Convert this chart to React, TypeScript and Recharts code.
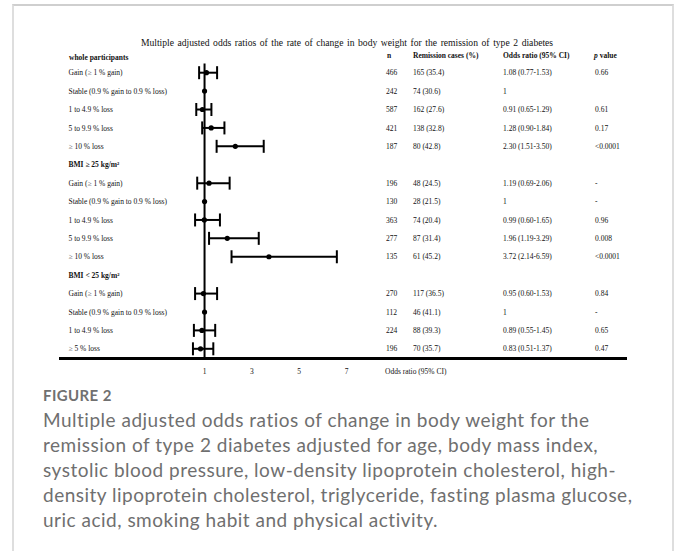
import React from "react";
import { ComposedChart, Line, ErrorBar, XAxis, YAxis, ReferenceLine } from "recharts";

// forest plot rows (null n = subgroup heading)
const rowLabels = [
  "Gain  (≥ 1 % gain)",
  "Stable  (0.9 % gain  to  0.9 % loss)",
  "1 to 4.9 % loss",
  "5 to 9.9 % loss",
  "≥ 10 % loss",
  "BMI ≥ 25 kg/m²",
  "Gain  (≥ 1 % gain)",
  "Stable  (0.9 % gain  to  0.9 % loss)",
  "1 to 4.9 % loss",
  "5 to 9.9 % loss",
  "≥ 10 % loss",
  "BMI < 25 kg/m²",
  "Gain  (≥ 1 % gain)",
  "Stable  (0.9 % gain  to  0.9 % loss)",
  "1 to 4.9 % loss",
  "≥ 5 % loss",
];
const nValues = [466, 242, 587, 421, 187, null, 196, 130, 363, 277, 135, null, 270, 112, 224, 196];
const remissionCases = [165, 74, 162, 138, 80, null, 48, 28, 74, 87, 61, null, 117, 46, 88, 70];
const remissionPct = ["35.4", "30.6", "27.6", "32.8", "42.8", null, "24.5", "21.5", "20.4", "31.4", "45.2", null, "36.5", "41.1", "39.3", "35.7"];
const oddsRatios = [1.08, 1, 0.91, 1.28, 2.3, null, 1.19, 1, 0.99, 1.96, 3.72, null, 0.95, 1, 0.89, 0.83];
const ciLower = [0.77, null, 0.65, 0.9, 1.51, null, 0.69, null, 0.6, 1.19, 2.14, null, 0.6, null, 0.55, 0.51];
const ciUpper = [1.53, null, 1.29, 1.84, 3.5, null, 2.06, null, 1.65, 3.29, 6.59, null, 1.53, null, 1.45, 1.37];
const pValues = ["0.66", "", "0.61", "0.17", "<0.0001", null, "-", "-", "0.96", "0.008", "<0.0001", null, "0.84", "-", "0.65", "0.47"];
const xTicks = [1, 3, 5, 7];

const rows = rowLabels.map((label, i) => {
  const or = oddsRatios[i];
  const lo = ciLower[i];
  const hi = ciUpper[i];
  return {
    id: `r${i}`,
    label,
    heading: nValues[i] == null,
    n: nValues[i],
    remission: remissionCases[i] != null ? `${remissionCases[i]} (${remissionPct[i]})` : "",
    orText:
      or == null ? "" : lo == null ? String(or) : `${or.toFixed(2)} (${lo.toFixed(2)}-${hi!.toFixed(2)})`,
    p: pValues[i] ?? "",
    or,
    err: or != null && lo != null && hi != null ? [or - lo, hi - or] : null,
  };
});

const SERIF = "'Liberation Serif', 'Times New Roman', serif";
const SANS = "Lato, 'Open Sans', sans-serif";

// chart box
const CHART_W = 677;
const CHART_H = 390;
const MARGIN = { top: 63.5, right: 50, bottom: 12, left: 0 };
const Y_AXIS_W = 59;
const X_AXIS_H = 20;

function RowTick(props: any) {
  const { y, payload } = props;
  const row = rows.find((r) => r.id === payload.value);
  if (!row) return null;
  return (
    <g fontFamily={SERIF} fontSize={7.5} fill="#111" style={{ whiteSpace: "pre" }}>
      <text x={68.5} y={y} dy="0.35em" fontWeight={row.heading ? "bold" : "normal"}>
        {row.label}
      </text>
      {!row.heading && (
        <>
          <text x={386} y={y} dy="0.35em">{row.n}</text>
          <text x={413} y={y} dy="0.35em">{row.remission}</text>
          <text x={503} y={y} dy="0.35em">{row.orText}</text>
          <text x={595} y={y} dy="0.35em">{row.p}</text>
        </>
      )}
    </g>
  );
}

const abs = (left: number, top: number, extra: React.CSSProperties = {}): React.CSSProperties => ({
  position: "absolute",
  left,
  top,
  whiteSpace: "pre",
  ...extra,
});

export default function App() {
  const headStyle: React.CSSProperties = {
    fontFamily: SERIF,
    fontSize: 7.5,
    lineHeight: "10px",
    fontWeight: "bold",
    color: "#111",
  };
  const plotLeft = MARGIN.left + Y_AXIS_W;
  const plotRight = CHART_W - MARGIN.right;
  const plotBottom = CHART_H - MARGIN.bottom - X_AXIS_H;
  return (
    <div style={{ position: "relative", width: 677, height: 551, background: "#fff", overflow: "hidden" }}>
      <style>{`body{margin:0}`}</style>
      <div
        style={{
          position: "absolute",
          left: 12,
          top: 4,
          width: 658,
          height: 600,
          borderTop: "2px solid #cfcfcf",
          borderLeft: "2px solid #dedede",
          borderRight: "2px solid #dedede",
        }}
      />
      <div
        style={abs(347, 37, {
          transform: "translateX(-50%)",
          fontFamily: SERIF,
          fontSize: 9.6,
          lineHeight: "12px",
          wordSpacing: 1.2,
          color: "#111",
        })}
      >
        Multiple adjusted odds ratios of the rate of change in body weight for the remission of type 2 diabetes
      </div>
      <div style={abs(69, 53, headStyle)}>whole participants</div>
      <div style={abs(387, 51, headStyle)}>n</div>
      <div style={abs(413, 51, headStyle)}>Remission cases (%)</div>
      <div style={abs(503, 51, headStyle)}>Odds ratio (95% CI)</div>
      <div style={abs(594, 51, headStyle)}>
        <i>p</i> value
      </div>

      <div style={{ position: "absolute", left: 0, top: 0 }}>
        <ComposedChart layout="vertical" width={CHART_W} height={CHART_H} data={rows} margin={MARGIN}>
          <XAxis
            type="number"
            domain={[-5.15, 18.85]}
            allowDataOverflow
            ticks={xTicks}
            tickLine={false}
            height={X_AXIS_H}
            axisLine={{ stroke: "#000", strokeWidth: 2 }}
            tick={{ fontSize: 7.5, fill: "#111", fontFamily: SERIF }}
            tickMargin={5}
          />
          <YAxis
            type="category"
            dataKey="id"
            width={Y_AXIS_W}
            padding={{ top: 9.2, bottom: 9.2 }}
            axisLine={false}
            tickLine={false}
            interval={0}
            tick={(p: any) => <RowTick {...p} />}
          />
          <ReferenceLine x={1} stroke="#000" strokeWidth={2} />
          <Line
            dataKey="or"
            stroke="none"
            isAnimationActive={false}
            dot={{ r: 2.6, fill: "#000", stroke: "#000", strokeWidth: 0 }}
            activeDot={false}
          >
            <ErrorBar dataKey="err" direction="x" width={6.5} stroke="#000" strokeWidth={2} />
          </Line>
        </ComposedChart>
      </div>

      <div style={abs(385, 367, { fontFamily: SERIF, fontSize: 7.5, lineHeight: "10px", color: "#111" })}>
        Odds ratio (95% CI)
      </div>

      <div
        style={abs(43, 386, {
          fontFamily: SANS,
          fontSize: 15,
          fontWeight: 700,
          letterSpacing: 0.4,
          lineHeight: "18px",
          color: "#707070",
        })}
      >
        FIGURE 2
      </div>
      <div
        style={abs(43, 407, {
          fontFamily: SANS,
          fontSize: 19,
          letterSpacing: 0.5,
          lineHeight: "25px",
          color: "#6f6f6f",
        })}
      >
        {"Multiple adjusted odds ratios of change in body weight for the\nremission of type 2 diabetes adjusted for age, body mass index,\nsystolic blood pressure, low-density lipoprotein cholesterol, high-\ndensity lipoprotein cholesterol, triglyceride, fasting plasma glucose,\nuric acid, smoking habit and physical activity."}
      </div>

      {/* baseline along the bottom of the plot area, kept on top of everything */}
      <div
        style={{
          position: "absolute",
          zIndex: 10,
          left: plotLeft,
          top: plotBottom - 1,
          width: plotRight - plotLeft,
          height: 2.5,
          background: "#000",
        }}
      />
    </div>
  );
}
